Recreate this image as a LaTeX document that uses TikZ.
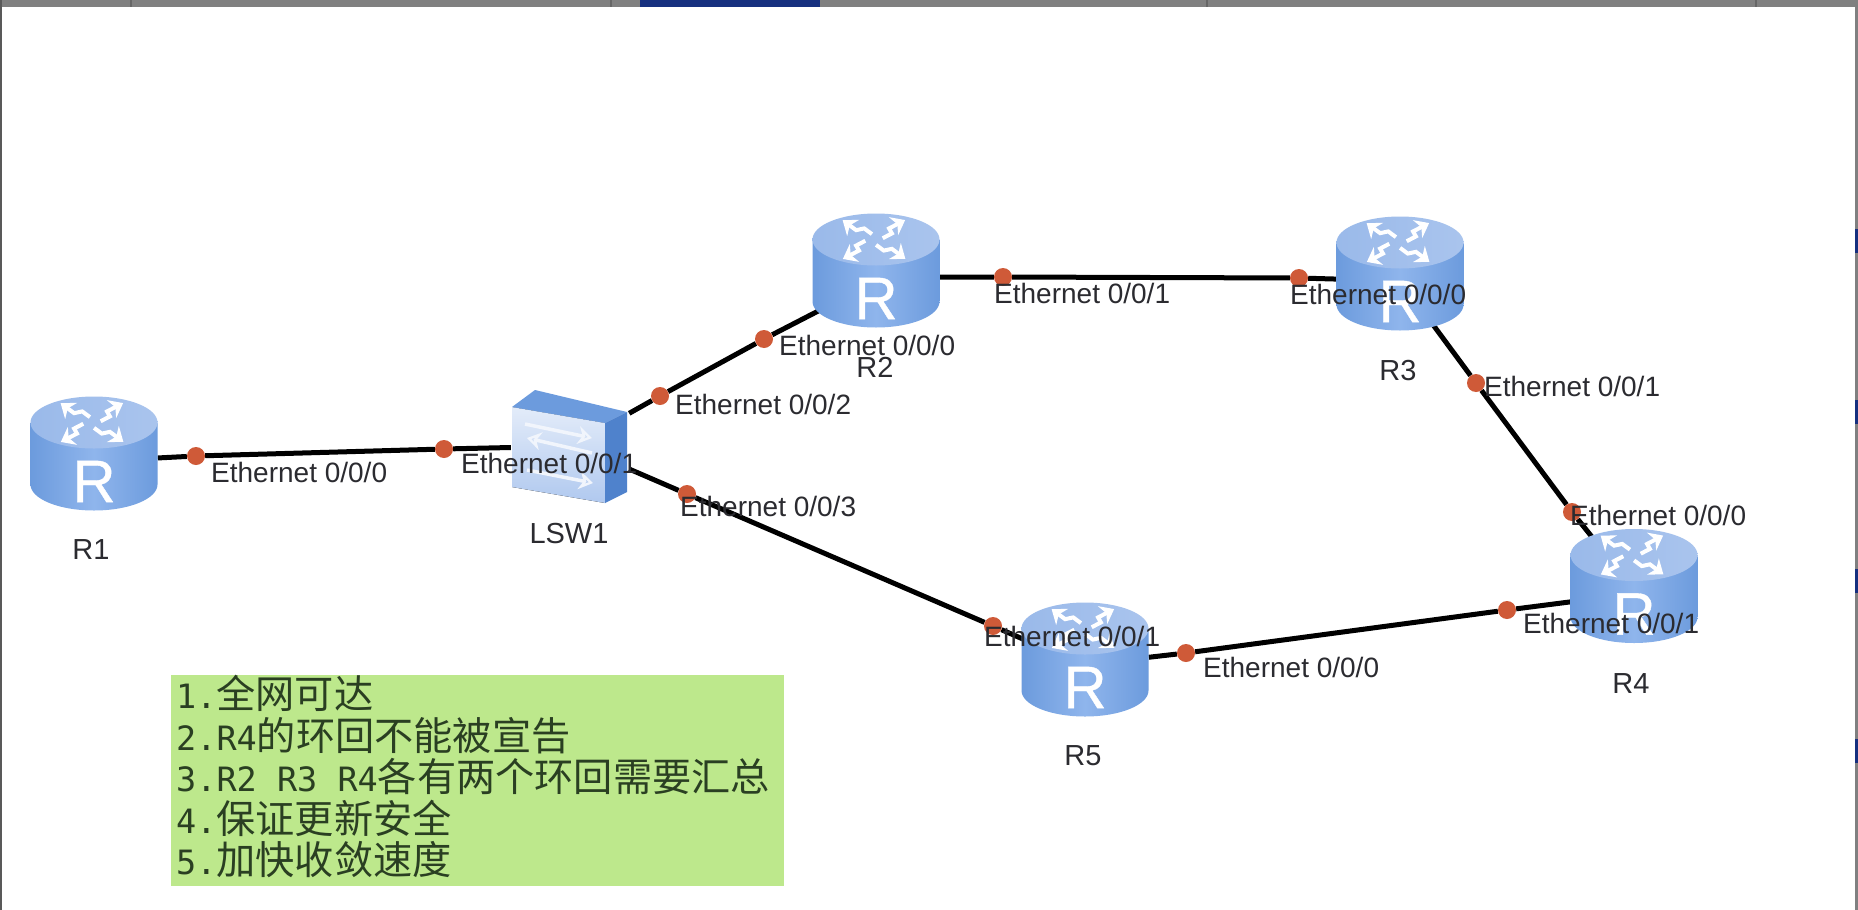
\documentclass[tikz,border=0pt]{standalone}
\usepackage{fontspec}
\setmainfont{Liberation Sans}
\newfontfamily\cjkfont{Noto Sans CJK SC}
\newfontfamily\latinmono{DejaVu Sans Mono}
\newfontfamily\iconfont[FakeBold=0.6]{Liberation Sans}
\usetikzlibrary{arrows.meta,backgrounds}
\definecolor{cylside}{HTML}{6C9BDD}
\definecolor{cylmid}{HTML}{8FB5EC}
\definecolor{cyltop}{HTML}{A2BFEC}
\definecolor{dotred}{HTML}{CF5A38}
\definecolor{panelgreen}{HTML}{BDE88C}
\definecolor{lbl}{HTML}{2B2B30}
\definecolor{swright}{HTML}{4F82CC}
\definecolor{notetext}{HTML}{2A3F22}
\definecolor{barblue}{HTML}{16307F}
\definecolor{chrome}{HTML}{808080}
\newcommand{\mm}[1]{{\latinmono\fontsize{33.5}{41.5}\selectfont #1}}
\tikzset{
  x=1pt,y=-1pt,
  routerbox/.style={inner sep=0,minimum width=127pt,minimum height=113pt},
  switchbox/.style={inner sep=0,minimum width=118pt,minimum height=115pt},
  port/.style={circle,fill=dotred,inner sep=0,minimum size=18pt},
  link/.style={black,line width=5pt},
  portlabel/.style={inner sep=0,anchor=west,text=lbl,font=\fontsize{28}{32}\selectfont},
  devlabel/.style={inner sep=0,text=lbl,font=\fontsize{29}{32}\selectfont},
  swarrow/.style={white!85!cyltop,line width=3.5pt,-{Stealth[length=14pt,width=18pt,open]}},
  routericon/.pic={
    \shade[left color=cylside,right color=cylside,middle color=cylmid]
      (-63.5,-31) -- (-63.5,31) arc[start angle=180,end angle=0,x radius=63.5,y radius=26] -- (63.5,-31) -- cycle;
    \shade[left color=cyltop!85!cylside,right color=cyltop!92!white]
      (0,-31) ellipse[x radius=63.5,y radius=26];
    \begin{scope}[shift={(-2,-31)},yscale=.62]
      \foreach \k in {40,130,220,310}{
        \draw[white,line width=4pt,-{Stealth[length=13pt,width=20pt]},rotate=\k]
          (8,4) -- (20,4) -- (23,-4) -- (44,-4);
      }
    \end{scope}
    \node[inner sep=0,text=white,font=\iconfont\fontsize{60}{60}\selectfont] at (0,28) {R};
  }
}
\begin{document}
\begin{tikzpicture}
\useasboundingbox (0,0) rectangle (1858,910);
\begin{scope}[on background layer]
\fill[white] (0,0) rectangle (1858,910);
\end{scope}
% chrome
\fill[chrome] (0,0) rectangle (1858,7);
\fill[chrome] (1855,0) rectangle (1858,910);
\fill[black!65] (0,0) rectangle (1.5,910);
\fill[barblue] (640,0) rectangle (820,7);
\foreach \xx in {130,610,1206,1755}{\fill[black!60] (\xx,0) rectangle (\xx+1.5,7);}
\foreach \yy in {229,400,569,739}{\fill[barblue] (1855,\yy) rectangle (1858,\yy+24);}
% devices
\node[routerbox] (R1) at (94,453.5) {};
\node[routerbox] (R2) at (876,270.5) {};
\node[routerbox] (R3) at (1400,273.5) {};
\node[routerbox] (R4) at (1634,586) {};
\node[routerbox] (R5) at (1085,659.5) {};
\node[switchbox] (LSW1) at (570,447.5) {};
% link ends that run in under the icons
\coordinate (R2in) at (826,307);
\coordinate (R3out) at (1431,322);
\coordinate (R4in) at (1592,537);
\coordinate (R5in) at (1032,643);
% ports
\node[port] (p1) at (196,456) {};
\node[port] (p2) at (444,449) {};
\node[port] (p3) at (660,396) {};
\node[port] (p4) at (764,339) {};
\node[port] (p5) at (1003,277) {};
\node[port] (p6) at (1299,278) {};
\node[port] (p7) at (1476,383) {};
\node[port] (p8) at (1572,512) {};
\node[port] (p9) at (1507,610) {};
\node[port] (p10) at (1186,653) {};
\node[port] (p11) at (993,626) {};
\node[port] (p12) at (687,494) {};
% links behind everything
\begin{scope}[on background layer]
\draw[link] (R1.-4) -- (p1) -- (p2) -- (LSW1.west);
\draw[link] (LSW1.30) -- (p3) -- (p4) -- (R2in);
\draw[link] (R2.-6) -- (p5) -- (p6) -- (R3.185);
\draw[link] (R3out) -- (p7) -- (p8) -- (R4in);
\draw[link] (R4.194) -- (p9) -- (p10) -- (R5.2);
\draw[link] (R5in) -- (p11) -- (p12) -- (LSW1.-20);
\end{scope}
% icons
\foreach \n in {R1,R2,R3,R4,R5}{\pic at (\n) {routericon};}
% switch icon
\fill[top color=white!70!cyltop,bottom color=cyltop!85!white] (512,407) -- (605,423) -- (605,503) -- (512,487) -- cycle;
\fill[cylside] (512,407) -- (535,390) -- (627,412) -- (605,423) -- cycle;
\fill[swright] (605,423) -- (627,412) -- (627,492) -- (605,503) -- cycle;
\draw[swarrow] (525,424) -- (592,438);
\draw[swarrow] (592,453) -- (527,438);
\draw[swarrow] (527,470) -- (593,483);
% panel
\node[fill=panelgreen,anchor=north west,inner sep=0,minimum width=613pt,minimum height=211pt] (panel) at (171,675) {};
\node[inner sep=0,anchor=north west,align=left,text=notetext,font=\cjkfont\fontsize{39.2}{41.5}\selectfont] (notes) at (176,675) {%
\mm{1.}全网可达\\
\mm{2.R4}的环回不能被宣告\\
\mm{3.R2 R3 R4}各有两个环回需要汇总\\
\mm{4.}保证更新安全\\
\mm{5.}加快收敛速度};
% labels
\node[devlabel] (t1) at (91,550) {R1};
\node[devlabel] (t2) at (875,367) {R2};
\node[devlabel] (t3) at (1398,371) {R3};
\node[devlabel] (t4) at (1631,684) {R4};
\node[devlabel] (t5) at (1083,756) {R5};
\node[devlabel] (t6) at (569,534) {LSW1};
\node[portlabel] (a1) at (211,472) {Ethernet 0/0/0};
\node[portlabel] (a2) at (461,463) {Ethernet 0/0/1};
\node[portlabel] (a3) at (675,404) {Ethernet 0/0/2};
\node[portlabel] (a4) at (680,506) {Ethernet 0/0/3};
\node[portlabel] (a5) at (779,345) {Ethernet 0/0/0};
\node[portlabel] (a6) at (994,293) {Ethernet 0/0/1};
\node[portlabel] (a7) at (1290,294) {Ethernet 0/0/0};
\node[portlabel] (a8) at (1484,386) {Ethernet 0/0/1};
\node[portlabel] (a9) at (1570,515) {Ethernet 0/0/0};
\node[portlabel] (a10) at (1523,623) {Ethernet 0/0/1};
\node[portlabel] (a11) at (984,636) {Ethernet 0/0/1};
\node[portlabel] (a12) at (1203,667) {Ethernet 0/0/0};
\end{tikzpicture}
\end{document}
